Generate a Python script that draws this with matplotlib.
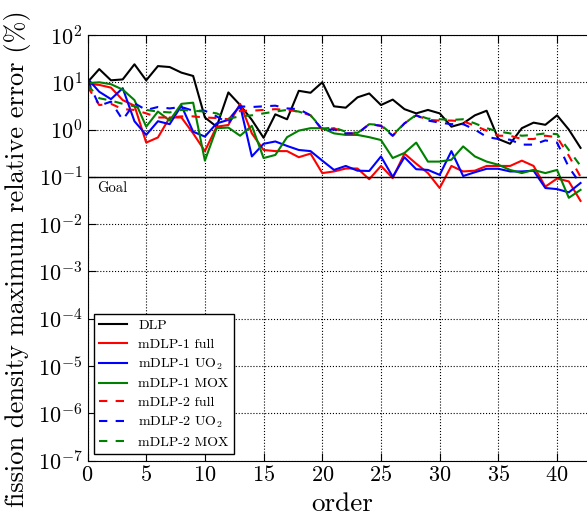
import numpy as np
import matplotlib
matplotlib.use('Agg')
import matplotlib.pyplot as plt

plt.rcParams['font.family'] = 'cmr10'
plt.rcParams['mathtext.fontset'] = 'cm'
plt.rcParams['axes.formatter.use_mathtext'] = True

# errors (%) per order 0..42
order = np.arange(43)
dlp = [10, 19, 11, 11.5, 24, 11, 22, 21, 16, 13.6,
       1.8, 1.15, 6.1, 3.3, 1.6, 0.67, 2.1, 1.65, 6.6, 6.0,
       10, 3.1, 2.9, 4.8, 5.8, 3.3, 4.3, 2.7, 2.2, 2.6,
       2.2, 1.15, 1.35, 2.0, 2.5, 0.63, 0.5, 1.07, 1.4, 1.26,
       2.0, 1.0, 0.41]
m1_full = [9.2, 8.8, 7.7, 4.2, 3.2, 0.53, 0.68, 1.8, 1.8, 0.83,
           0.35, 1.15, 1.25, 3.5, 0.83, 0.37, 0.35, 0.35, 0.26, 0.31,
           0.12, 0.13, 0.15, 0.15, 0.089, 0.17, 0.094, 0.31, 0.19, 0.12,
           0.058, 0.17, 0.13, 0.135, 0.17, 0.17, 0.17, 0.22, 0.17, 0.062,
           0.092, 0.08, 0.031]
m1_uo2 = [12, 6.3, 4.4, 7.5, 1.5, 0.77, 1.5, 1.3, 3.2, 0.9,
          0.71, 1.35, 1.6, 3.2, 0.27, 0.5, 0.56, 0.45, 0.37, 0.35,
          0.22, 0.14, 0.17, 0.135, 0.133, 0.27, 0.1, 0.26, 0.145, 0.14,
          0.11, 0.35, 0.104, 0.125, 0.148, 0.148, 0.13, 0.13, 0.135, 0.058,
          0.055, 0.047, 0.074]
m1_mox = [9.5, 10, 9.1, 7.0, 4.2, 1.15, 2.4, 1.55, 3.5, 3.7,
          0.22, 1.07, 1.1, 0.74, 1.2, 0.25, 0.29, 0.69, 0.95, 1.07,
          1.07, 0.83, 0.77, 0.77, 0.69, 0.6, 0.25, 0.32, 0.53, 0.21,
          0.21, 0.23, 0.44, 0.27, 0.21, 0.18, 0.14, 0.12, 0.14, 0.12,
          0.14, 0.036, 0.053]
m2_full = [8.1, 3.3, 3.5, 2.7, 2.6, 2.2, 1.8, 1.8, 1.9, 1.9,
           1.8, 1.75, 1.65, 2.5, 2.5, 2.6, 2.7, 2.6, 2.4, 2.0,
           1.0, 1.07, 0.83, 0.83, 1.3, 1.2, 0.74, 1.35, 2.0, 1.6,
           1.55, 1.55, 1.5, 1.2, 0.95, 0.74, 0.74, 0.63, 0.63, 0.74,
           0.69, 0.28, 0.1]
m2_uo2 = [11, 3.2, 3.9, 1.6, 3.6, 2.6, 3.0, 2.8, 3.0, 2.5,
          2.5, 1.9, 1.35, 3.1, 3.0, 3.1, 3.2, 2.8, 2.7, 2.0,
          1.0, 1.0, 0.83, 0.83, 1.3, 1.2, 0.74, 1.35, 2.0, 1.55,
          1.4, 1.3, 1.3, 1.0, 0.7, 0.63, 0.61, 0.48, 0.48, 0.59,
          0.53, 0.16, 0.071]
m2_mox = [8.8, 4.6, 4.1, 3.5, 3.1, 2.6, 2.4, 2.3, 2.6, 2.5,
          2.4, 2.2, 1.7, 1.9, 2.0, 2.2, 2.4, 2.6, 2.4, 2.0,
          1.05, 1.1, 0.9, 0.85, 1.3, 1.25, 0.77, 1.35, 2.05, 1.7,
          1.65, 1.6, 1.65, 1.35, 1.07, 0.91, 0.83, 0.74, 0.77, 0.83,
          0.8, 0.37, 0.17]
goal = 0.1

fig = plt.figure(figsize=(5.87, 5.16), dpi=100)
ax = fig.add_axes([87.5/587, 55.5/516, 1 - 87.5/587, 425.5/516])

lw = 1.5
dash = (0, (4, 4))
ax.semilogy(order, dlp, 'k', lw=lw, label='DLP')
ax.semilogy(order, m1_full, 'r', lw=lw, label='mDLP-1 full')
ax.semilogy(order, m1_uo2, 'b', lw=lw, label='mDLP-1 UO$_2$')
ax.semilogy(order, m1_mox, color='g', lw=lw, label='mDLP-1 MOX')
ax.semilogy(order, m2_full, 'r', ls=dash, lw=lw, label='mDLP-2 full')
ax.semilogy(order, m2_uo2, 'b', ls=dash, lw=lw, label='mDLP-2 UO$_2$')
ax.semilogy(order, m2_mox, color='g', ls=dash, lw=lw, label='mDLP-2 MOX')

ax.axhline(goal, color='k', lw=1)
ax.text(0.8, 0.082, 'Goal', fontsize=10.5, va='top')

ax.set_xlim(0, 42.55)
ax.set_ylim(1e-7, 1e2)
ax.set_xticks(range(0, 41, 5))
ax.set_yticks([10.0**k for k in range(-7, 3)])
ax.grid(True, which='major', ls=':', color='k', lw=0.8)
ax.spines['right'].set_visible(False)
ax.tick_params(which='both', direction='in', labelsize=16, right=False, top=True)
ax.tick_params(which='major', length=6)
ax.tick_params(which='minor', length=3)

ax.set_xlabel('order', fontsize=19.5)
ax.xaxis.set_label_coords(0.51, -0.075)
ax.set_ylabel('fission density maximum relative error (%)', fontsize=19)
ax.yaxis.set_label_coords(-0.113, 0.474)

leg = ax.legend(loc='lower left', fontsize=10, handlelength=2.0, labelspacing=0.42,
                fancybox=False, edgecolor='k', framealpha=1, borderaxespad=0.45)
leg.get_frame().set_linewidth(1)

fig.savefig('out.png', dpi=100)
